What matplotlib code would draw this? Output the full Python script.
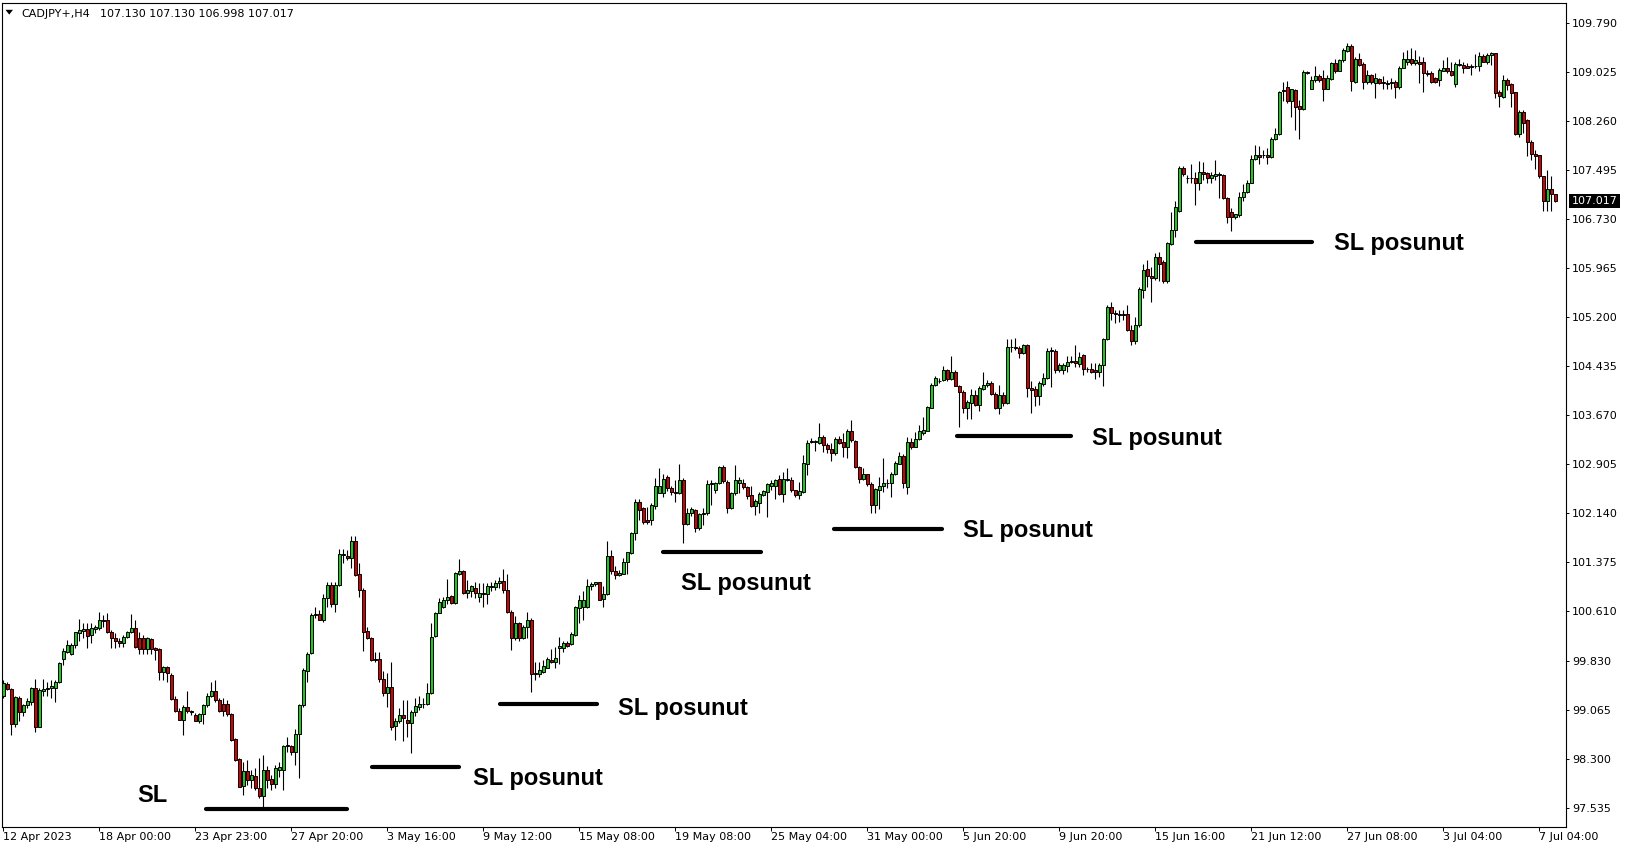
import numpy as np
import matplotlib
matplotlib.use("Agg")
import matplotlib.pyplot as plt
from matplotlib.transforms import IdentityTransform, blended_transform_factory
from matplotlib.patches import Polygon

# ---------------- data (CADJPY+, H4) ----------------
opens = [
 99.28, 99.48, 99.40, 98.85, 99.25, 99.03, 99.14, 99.20, 99.41, 98.81,
 99.37, 99.39, 99.41, 99.42, 99.50, 99.86, 99.98, 99.95, 100.08, 100.27,
 100.31, 100.33, 100.24, 100.34, 100.35, 100.47, 100.47, 100.29, 100.19, 100.15,
 100.11, 100.21, 100.28, 100.35, 100.20, 100.20, 100.02, 100.18, 100.03, 100.02,
 99.67, 99.74, 99.62, 99.24, 99.05, 98.92, 99.11, 99.05, 98.99, 98.89,
 99.00, 99.14, 99.28, 99.36, 99.23, 99.17, 99.17, 99.00, 98.61, 98.30,
 97.88, 98.11, 97.97, 98.04, 97.85, 97.73, 98.14, 97.99, 97.91, 98.14,
 98.14, 98.50, 98.51, 98.42, 98.70, 99.15, 99.68, 99.96, 100.55, 100.57,
 100.48, 100.81, 101.02, 100.73, 101.02, 101.49, 101.47, 101.44, 101.71, 101.19,
 100.95, 100.30, 100.20, 99.86, 99.86, 99.55, 99.33, 99.43, 98.82, 98.90,
 98.99, 98.92, 98.87, 99.03, 99.12, 99.16, 99.16, 99.34, 100.22, 100.59,
 100.67, 100.78, 100.85, 100.74, 101.20, 101.24, 100.90, 100.93, 100.97, 100.84,
 100.90, 100.88, 100.99, 100.99, 101.05, 101.09, 100.94, 100.60, 100.20, 100.43,
 100.20, 100.36, 100.47, 99.63, 99.63, 99.67, 99.73, 99.85, 99.82, 100.04,
 100.03, 100.12, 100.10, 100.24, 100.66, 100.68, 100.67, 101.00, 101.04, 101.06,
 100.80, 100.88, 101.47, 101.24, 101.18, 101.20, 101.38, 101.52, 101.83, 102.32,
 102.22, 102.04, 102.04, 102.26, 102.46, 102.46, 102.71, 102.53, 102.47, 102.45,
 102.66, 101.98, 102.15, 102.19, 101.91, 102.13, 102.14, 102.59, 102.51, 102.61,
 102.87, 102.63, 102.22, 102.46, 102.61, 102.62, 102.55, 102.43, 102.26, 102.30,
 102.43, 102.48, 102.56, 102.56, 102.67, 102.44, 102.66, 102.66, 102.50, 102.43,
 102.48, 102.91, 103.25, 103.25, 103.24, 103.33, 103.21, 103.14, 103.08, 103.30,
 103.25, 103.17, 103.43, 103.27, 102.86, 102.67, 102.75, 102.60, 102.27, 102.51,
 102.56, 102.61, 102.62, 102.75, 102.91, 103.04, 102.55, 103.26, 103.18, 103.30,
 103.40, 103.43, 103.78, 104.14, 104.20, 104.22, 104.37, 104.23, 104.35, 104.13,
 104.04, 103.78, 103.86, 103.99, 103.83, 104.08, 104.14, 104.18, 104.01, 103.79,
 103.99, 103.86, 104.73, 104.74, 104.72, 104.64, 104.77, 104.09, 104.08, 103.97,
 104.16, 104.26, 104.67, 104.68, 104.37, 104.38, 104.44, 104.50, 104.52, 104.47,
 104.61, 104.40, 104.40, 104.37, 104.34, 104.46, 104.86, 105.36, 105.27, 105.24,
 105.24, 105.25, 105.00, 104.83, 105.08, 105.63, 105.96, 105.84, 105.81, 106.14,
 106.07, 105.77, 106.34, 106.56, 106.86, 107.53, 107.37, 107.37, 107.37, 107.29,
 107.47, 107.45, 107.37, 107.41, 107.42, 107.42, 107.06, 106.85, 106.76, 106.80,
 107.08, 107.16, 107.30, 107.67, 107.74, 107.73, 107.74, 107.70, 107.98, 108.06,
 108.75, 108.79, 108.57, 108.75, 108.50, 108.45, 109.01, 108.77, 108.91, 108.97,
 108.93, 108.77, 108.92, 109.17, 109.05, 109.21, 109.36, 109.44, 108.88, 109.24,
 109.15, 108.88, 108.98, 108.86, 108.92, 108.86, 108.86, 108.86, 108.87, 108.79,
 109.10, 109.18, 109.23, 109.17, 109.19, 109.18, 109.02, 109.01, 108.93, 108.91,
 109.05, 109.10, 109.05, 108.84, 109.14, 109.14, 109.12, 109.11, 109.12, 109.12,
 109.28, 109.19, 109.29, 109.32, 108.71, 108.64, 108.90, 108.84, 108.71, 108.06,
 108.41, 108.28, 107.94, 107.75, 107.73, 107.40, 107.02, 107.20, 107.130,
]
highs = [
 99.54, 99.51, 99.42, 99.28, 99.28, 99.17, 99.25, 99.43, 99.56, 99.41,
 99.56, 99.51, 99.54, 99.54, 99.82, 100.03, 100.16, 100.11, 100.29, 100.49,
 100.42, 100.43, 100.42, 100.40, 100.60, 100.56, 100.58, 100.32, 100.27, 100.19,
 100.24, 100.31, 100.57, 100.47, 100.29, 100.24, 100.21, 100.19, 100.06, 100.04,
 99.76, 99.76, 99.64, 99.28, 99.10, 99.15, 99.36, 99.07, 99.02, 99.02,
 99.16, 99.33, 99.51, 99.54, 99.25, 99.25, 99.23, 99.02, 98.63, 98.32,
 98.26, 98.29, 98.13, 98.16, 98.32, 98.37, 98.19, 98.06, 98.21, 98.26,
 98.52, 98.64, 98.52, 98.78, 99.17, 99.72, 99.98, 100.58, 100.67, 100.63,
 100.88, 101.07, 101.06, 101.07, 101.59, 101.59, 101.57, 101.78, 101.79, 101.36,
 100.97, 100.37, 100.21, 99.98, 99.98, 99.68, 99.64, 99.82, 98.94, 99.10,
 99.23, 99.23, 99.07, 99.25, 99.28, 99.25, 99.49, 100.42, 100.60, 100.81,
 100.84, 101.12, 100.86, 101.23, 101.42, 101.25, 101.10, 101.02, 101.07, 101.05,
 101.05, 101.05, 101.07, 101.10, 101.14, 101.27, 101.20, 100.63, 100.53, 100.45,
 100.40, 100.60, 100.50, 99.82, 99.82, 99.85, 99.90, 100.02, 100.06, 100.21,
 100.14, 100.14, 100.28, 100.69, 100.86, 100.92, 101.12, 101.07, 101.07, 101.07,
 101.00, 101.70, 101.56, 101.31, 101.25, 101.44, 101.54, 101.85, 102.37, 102.36,
 102.24, 102.24, 102.30, 102.69, 102.84, 102.76, 102.74, 102.56, 102.66, 102.91,
 102.69, 102.22, 102.24, 102.20, 102.14, 102.22, 102.66, 102.66, 102.63, 102.88,
 102.90, 102.66, 102.48, 102.90, 102.71, 102.67, 102.57, 102.56, 102.36, 102.48,
 102.51, 102.62, 102.66, 102.67, 102.74, 102.79, 102.84, 102.71, 102.51, 102.63,
 103.05, 103.28, 103.31, 103.28, 103.55, 103.36, 103.23, 103.23, 103.33, 103.34,
 103.39, 103.45, 103.60, 103.28, 102.88, 102.84, 102.76, 102.63, 102.53, 102.70,
 103.00, 102.67, 102.79, 102.95, 103.09, 103.07, 103.33, 103.31, 103.41, 103.52,
 103.64, 103.81, 104.17, 104.28, 104.25, 104.44, 104.39, 104.59, 104.38, 104.14,
 104.07, 103.91, 104.08, 104.07, 104.12, 104.35, 104.22, 104.20, 104.04, 104.14,
 104.04, 104.86, 104.86, 104.87, 104.75, 104.78, 104.78, 104.20, 104.12, 104.20,
 104.33, 104.72, 104.74, 104.70, 104.48, 104.48, 104.60, 104.59, 104.77, 104.66,
 104.63, 104.43, 104.48, 104.49, 104.48, 104.87, 105.39, 105.44, 105.31, 105.32,
 105.32, 105.39, 105.08, 105.21, 105.68, 106.04, 106.10, 105.99, 106.21, 106.22,
 106.10, 106.38, 106.85, 107.02, 107.56, 107.57, 107.42, 107.60, 107.47, 107.64,
 107.63, 107.47, 107.47, 107.66, 107.47, 107.44, 107.08, 106.90, 106.82, 107.16,
 107.28, 107.34, 107.73, 107.89, 107.87, 107.81, 107.84, 108.02, 108.15, 108.74,
 108.88, 108.89, 108.77, 108.77, 108.59, 109.06, 109.05, 108.96, 109.12, 109.00,
 109.06, 108.98, 109.19, 109.23, 109.24, 109.41, 109.49, 109.47, 109.26, 109.32,
 109.18, 109.06, 109.00, 109.01, 108.93, 108.97, 108.91, 108.93, 108.91, 109.12,
 109.35, 109.38, 109.40, 109.37, 109.28, 109.26, 109.06, 109.05, 108.95, 109.09,
 109.22, 109.26, 109.19, 109.18, 109.23, 109.19, 109.17, 109.16, 109.31, 109.35,
 109.31, 109.33, 109.35, 109.33, 108.75, 108.98, 108.93, 108.86, 108.72, 108.43,
 108.43, 108.29, 107.97, 107.81, 107.73, 107.41, 107.50, 107.40, 107.130,
]
lows = [
 99.25, 99.38, 98.68, 98.81, 98.89, 98.97, 99.10, 99.15, 98.72, 98.80,
 99.28, 99.28, 99.25, 99.20, 99.49, 99.77, 99.96, 99.93, 100.03, 100.14,
 100.19, 100.03, 100.11, 100.27, 100.32, 100.37, 100.27, 100.03, 100.03, 100.06,
 100.05, 100.19, 100.27, 100.03, 99.95, 99.95, 99.95, 99.95, 99.85, 99.54,
 99.54, 99.51, 99.22, 99.04, 98.91, 98.68, 99.02, 98.99, 98.89, 98.87,
 98.85, 99.12, 99.27, 99.20, 99.04, 98.97, 98.97, 98.59, 98.28, 97.86,
 97.74, 97.90, 97.85, 97.82, 97.69, 97.56, 97.85, 97.82, 97.85, 98.03,
 97.82, 98.42, 98.37, 98.21, 98.00, 99.12, 99.51, 99.95, 100.50, 100.47,
 100.45, 100.68, 100.68, 100.60, 101.00, 101.36, 101.41, 101.28, 101.16, 100.84,
 99.99, 100.17, 99.84, 99.82, 99.51, 99.28, 99.12, 98.75, 98.60, 98.86,
 98.59, 98.65, 98.39, 98.97, 99.07, 99.10, 99.15, 99.32, 100.21, 100.58,
 100.66, 100.73, 100.73, 100.73, 101.18, 100.88, 100.81, 100.84, 100.81, 100.76,
 100.67, 100.73, 100.92, 100.94, 100.97, 100.89, 100.59, 100.01, 100.16, 100.15,
 100.17, 100.19, 99.35, 99.54, 99.59, 99.64, 99.72, 99.80, 99.72, 99.78,
 99.98, 100.05, 100.08, 100.22, 100.43, 100.48, 100.66, 100.94, 101.00, 100.78,
 100.68, 100.87, 101.19, 101.11, 101.16, 101.19, 101.20, 101.50, 101.72, 102.04,
 101.97, 101.97, 101.96, 102.20, 102.45, 102.40, 102.49, 102.43, 102.31, 102.44,
 101.67, 101.96, 102.10, 101.85, 101.88, 101.96, 102.11, 102.27, 102.45, 102.60,
 102.61, 102.15, 102.20, 102.43, 102.45, 102.52, 102.37, 102.24, 102.11, 102.14,
 102.41, 102.09, 102.50, 102.36, 102.43, 102.31, 102.65, 102.48, 102.40, 102.36,
 102.46, 102.74, 103.23, 103.12, 103.22, 103.10, 103.08, 102.95, 103.05, 103.22,
 103.02, 103.01, 103.26, 102.84, 102.61, 102.66, 102.57, 102.14, 102.14, 102.20,
 102.48, 102.53, 102.40, 102.74, 102.91, 102.53, 102.44, 103.14, 103.17, 103.29,
 103.36, 103.42, 103.78, 104.13, 104.17, 104.20, 104.21, 104.22, 104.12, 103.49,
 103.70, 103.61, 103.62, 103.82, 103.74, 104.07, 104.11, 103.99, 103.77, 103.69,
 103.82, 103.85, 104.66, 104.69, 104.56, 104.63, 103.96, 103.70, 103.82, 103.83,
 104.13, 104.23, 104.11, 104.33, 104.34, 104.32, 104.35, 104.48, 104.43, 104.42,
 104.30, 104.35, 104.33, 104.23, 104.27, 104.12, 104.84, 105.16, 105.11, 105.13,
 105.16, 104.98, 104.77, 104.79, 105.05, 105.50, 105.67, 105.44, 105.78, 105.76,
 105.74, 105.73, 106.33, 106.45, 106.85, 107.40, 107.29, 107.29, 106.95, 107.19,
 107.34, 107.30, 107.30, 107.34, 107.06, 107.04, 106.68, 106.54, 106.74, 106.77,
 107.02, 107.14, 107.29, 107.66, 107.59, 107.68, 107.60, 107.69, 107.97, 108.05,
 108.57, 108.54, 108.33, 108.12, 107.99, 108.44, 109.00, 108.76, 108.88, 108.88,
 108.58, 108.76, 108.91, 109.02, 109.04, 109.19, 109.35, 108.74, 108.86, 109.12,
 108.77, 108.85, 108.85, 108.62, 108.85, 108.77, 108.77, 108.76, 108.62, 108.77,
 109.09, 109.14, 109.14, 109.14, 108.86, 108.71, 108.96, 108.86, 108.86, 108.81,
 109.04, 109.02, 108.97, 108.80, 109.12, 109.01, 109.09, 108.98, 109.10, 109.05,
 109.18, 109.16, 109.14, 108.63, 108.49, 108.62, 108.75, 108.49, 108.05, 108.02,
 108.07, 107.72, 107.66, 107.51, 107.37, 106.86, 106.86, 106.86, 106.998,
]
closes = [
 99.49, 99.39, 98.85, 99.27, 99.03, 99.15, 99.21, 99.41, 98.81, 99.38,
 99.40, 99.42, 99.44, 99.51, 99.80, 99.99, 100.08, 100.08, 100.28, 100.32,
 100.33, 100.23, 100.35, 100.36, 100.47, 100.46, 100.29, 100.19, 100.14, 100.11,
 100.21, 100.28, 100.35, 100.05, 100.02, 100.02, 100.19, 100.02, 100.01, 99.67,
 99.74, 99.65, 99.24, 99.05, 98.91, 99.12, 99.06, 99.03, 98.90, 99.01,
 99.14, 99.29, 99.36, 99.22, 99.06, 99.06, 99.00, 98.60, 98.29, 97.87,
 98.11, 97.98, 98.05, 97.85, 97.73, 98.14, 97.98, 97.91, 98.16, 98.18,
 98.50, 98.52, 98.42, 98.70, 99.15, 99.69, 99.95, 100.56, 100.57, 100.48,
 100.81, 101.02, 100.73, 101.02, 101.51, 101.51, 101.44, 101.70, 101.18, 100.95,
 100.29, 100.20, 99.85, 99.85, 99.55, 99.33, 99.43, 98.81, 98.90, 98.99,
 98.94, 98.87, 99.03, 99.13, 99.16, 99.17, 99.34, 100.21, 100.59, 100.76,
 100.79, 100.84, 100.74, 101.21, 101.24, 100.90, 100.95, 101.00, 100.89, 100.90,
 100.88, 101.00, 101.00, 101.05, 101.09, 100.94, 100.60, 100.20, 100.43, 100.20,
 100.37, 100.47, 99.63, 99.64, 99.70, 99.75, 99.86, 99.82, 99.88, 100.07,
 100.12, 100.07, 100.26, 100.67, 100.78, 100.79, 101.00, 101.04, 101.06, 100.79,
 100.88, 101.47, 101.24, 101.18, 101.21, 101.38, 101.53, 101.84, 102.32, 102.19,
 102.01, 102.01, 102.27, 102.56, 102.56, 102.67, 102.53, 102.48, 102.45, 102.66,
 101.98, 102.15, 102.21, 101.91, 102.13, 102.15, 102.60, 102.61, 102.62, 102.87,
 102.65, 102.22, 102.46, 102.66, 102.66, 102.55, 102.41, 102.26, 102.33, 102.44,
 102.49, 102.60, 102.61, 102.66, 102.44, 102.67, 102.67, 102.50, 102.43, 102.49,
 102.92, 103.24, 103.27, 103.27, 103.33, 103.21, 103.14, 103.08, 103.30, 103.24,
 103.17, 103.43, 103.28, 102.86, 102.67, 102.75, 102.60, 102.27, 102.52, 102.57,
 102.61, 102.62, 102.76, 102.93, 103.04, 102.62, 103.26, 103.18, 103.30, 103.42,
 103.44, 103.80, 104.14, 104.26, 104.21, 104.37, 104.23, 104.35, 104.13, 104.04,
 103.78, 103.87, 103.99, 103.83, 104.09, 104.14, 104.18, 104.01, 103.79, 103.99,
 103.86, 104.73, 104.74, 104.72, 104.64, 104.77, 104.09, 104.07, 103.97, 104.17,
 104.26, 104.68, 104.69, 104.37, 104.46, 104.46, 104.50, 104.52, 104.48, 104.58,
 104.39, 104.39, 104.35, 104.34, 104.46, 104.86, 105.36, 105.27, 105.25, 105.25,
 105.25, 105.00, 104.83, 105.08, 105.64, 105.94, 105.84, 105.81, 106.14, 106.04,
 105.77, 106.36, 106.57, 106.92, 107.53, 107.44, 107.38, 107.38, 107.29, 107.47,
 107.44, 107.37, 107.42, 107.44, 107.44, 107.06, 106.76, 106.76, 106.81, 107.08,
 107.16, 107.30, 107.67, 107.74, 107.71, 107.74, 107.70, 107.99, 108.06, 108.72,
 108.73, 108.57, 108.76, 108.49, 108.45, 109.03, 109.03, 108.91, 108.97, 108.91,
 108.76, 108.93, 109.17, 109.05, 109.22, 109.37, 109.44, 108.89, 109.24, 109.14,
 108.88, 108.98, 108.88, 108.93, 108.86, 108.87, 108.85, 108.88, 108.79, 109.10,
 109.23, 109.23, 109.17, 109.22, 109.16, 109.02, 109.00, 108.88, 108.88, 109.06,
 109.10, 109.04, 108.98, 109.15, 109.15, 109.10, 109.10, 109.12, 109.13, 109.28,
 109.19, 109.30, 109.33, 108.70, 108.65, 108.91, 108.83, 108.70, 108.06, 108.41,
 108.23, 107.93, 107.75, 107.72, 107.41, 107.02, 107.20, 107.12, 107.017,
]

x_tick_labels = ['12 Apr 2023', '18 Apr 00:00', '23 Apr 23:00', '27 Apr 20:00',
                 '3 May 16:00', '9 May 12:00', '15 May 08:00', '19 May 08:00',
                 '25 May 04:00', '31 May 00:00', '5 Jun 20:00', '9 Jun 20:00',
                 '15 Jun 16:00', '21 Jun 12:00', '27 Jun 08:00', '3 Jul 04:00',
                 '7 Jul 04:00']
bars_per_label = 24
y_tick_labels = ['97.535', '98.300', '99.065', '99.830', '100.610', '101.375',
                 '102.140', '102.905', '103.670', '104.435', '105.200', '105.965',
                 '106.730', '107.495', '108.260', '109.025', '109.790']

symbol = 'CADJPY+,H4'
last_bar = '107.130 107.130 106.998 107.017'
current_price = 107.017

# stop-loss levels: (start bar, end bar, price)
sl_start = [50.7, 92.1, 124.2, 165.0, 207.7, 238.3, 298.1]
sl_end = [85.9, 114.0, 148.3, 189.5, 234.6, 266.8, 327.2]
sl_price = [97.52, 98.175, 99.158, 101.531, 101.890, 103.347, 106.371]
sl_text = ['SL', 'SL posunut', 'SL posunut', 'SL posunut', 'SL posunut',
           'SL posunut', 'SL posunut']
sl_text_x = [33.4, 117.4, 153.7, 169.3, 240.0, 272.1, 332.7]
sl_text_y = [97.638, 97.898, 98.991, 100.943, 101.765, 103.206, 106.251]

# ---------------- drawing ----------------
W, H = 1629, 850
fig = plt.figure(figsize=(W / 100, H / 100), dpi=100)
fig.patch.set_facecolor('white')
ax_l, ax_r, ax_t, ax_b = 2.0, 1565.7, 2.7, 826.7
ax = fig.add_axes([ax_l / W, 1 - ax_b / H, (ax_r - ax_l) / W, (ax_b - ax_t) / H])

o = np.array(opens); h = np.array(highs); l = np.array(lows); c = np.array(closes)
idx = np.arange(len(o))
up = c >= o
green = '#1ec81e'
red = '#d20000'

ax.vlines(idx, l, h, color='black', linewidth=0.8, zorder=2)
bottoms = np.minimum(o, c)
heights = np.abs(c - o)
ax.bar(idx, heights, bottom=bottoms, width=0.72,
       color=np.where(up, green, red), edgecolor='black', linewidth=0.7, zorder=3)

for s, e, p in zip(sl_start, sl_end, sl_price):
    ax.plot([s, e], [p, p], color='black', linewidth=3.0,
            solid_capstyle='round', zorder=4)
for t, tx, ty in zip(sl_text, sl_text_x, sl_text_y):
    ax.text(tx, ty, t, fontsize=17, fontweight='bold', family='Liberation Sans',
            ha='left', va='baseline', color='black', zorder=5)

ax.set_xlim(-0.33, 390.6)
ax.set_ylim(97.247, 110.112)

ax.set_xticks([bars_per_label * k for k in range(len(x_tick_labels))])
ax.set_xticklabels(x_tick_labels, ha='left')
ax.set_yticks([float(v) for v in y_tick_labels])
ax.set_yticklabels(y_tick_labels)
ax.yaxis.tick_right()
ax.tick_params(axis='both', direction='out', colors='black', labelsize=8, width=0.7)
ax.tick_params(axis='y', length=2.5, pad=2.2)
ax.tick_params(axis='x', length=3.0, pad=1.0)
for sp in ax.spines.values():
    sp.set_linewidth(0.8)
    sp.set_color('black')

# current price label
tr = blended_transform_factory(ax.transAxes, ax.transData)
ax.text(1.0038, current_price, f'{current_price:.3f}', transform=tr, fontsize=8,
        color='white', ha='left', va='center',
        bbox=dict(facecolor='black', edgecolor='none', pad=1.6), clip_on=False, zorder=6)

# header
tri = Polygon([[5.5, H - 9.8], [13.0, H - 9.8], [9.25, H - 14.6]], closed=True,
              facecolor='black', edgecolor='none', transform=IdentityTransform())
fig.patches.append(tri)
fig.text(21.5 / W, 1 - 16.8 / H, symbol, fontsize=8, ha='left', va='baseline')
fig.text(100.0 / W, 1 - 16.8 / H, last_bar, fontsize=8, ha='left', va='baseline')

fig.savefig('out.png', dpi=100, facecolor='white')
